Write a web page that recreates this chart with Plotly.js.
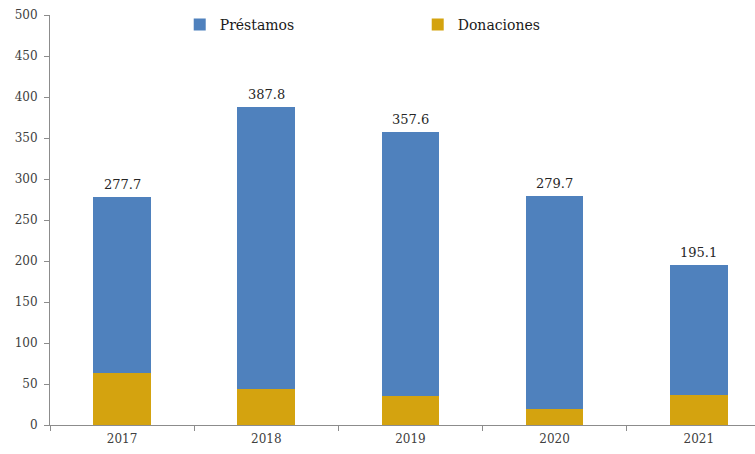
<!DOCTYPE html>
<html>
<head>
<meta charset="utf-8">
<script src="https://cdn.plot.ly/plotly-3.0.1.min.js"></script>
<style>body{margin:0;padding:0;background:#fff}#chart{width:755px;height:454px}</style>
</head>
<body>
<div id="chart"></div>
<script>
// years and the two stacked series
var years = ["2017", "2018", "2019", "2020", "2021"];
var prestamos = [214.3, 344.3, 322.1, 260.2, 158.4];
var donaciones = [63.4, 43.5, 35.5, 19.5, 36.7];

var serif = "DejaVu Serif";

var traces = [
  {x: years, y: donaciones, name: "Donaciones", type: "bar", marker: {color: "#D4A30F"}},
  {x: years, y: prestamos, name: "Préstamos", type: "bar", marker: {color: "#4F81BD"}}
];

// total label above each stack (x given as category index)
var notes = years.map(function (yr, i) {
  var total = prestamos[i] + donaciones[i];
  return {x: i, y: total, text: total.toFixed(1), showarrow: false,
          yanchor: "bottom", yshift: 3, font: {family: serif, size: 13, color: "#262626"}};
});

var layout = {
  width: 755, height: 454,
  margin: {l: 50, r: 0, t: 15, b: 29, autoexpand: false},
  barmode: "stack", bargap: 0.6,
  paper_bgcolor: "#fff", plot_bgcolor: "#fff",
  font: {family: serif, size: 12, color: "#404040"},
  showlegend: true,
  legend: {orientation: "h", traceorder: "reversed", x: 0.184, y: 1.015, xanchor: "left", yanchor: "top",
           entrywidth: 193, font: {family: serif, size: 14, color: "#1a1a1a"}, bgcolor: "rgba(0,0,0,0)"},
  xaxis: {type: "category", range: [-0.5, 4.39], showline: true, linecolor: "#8c8c8c",
          ticks: "outside", tickson: "boundaries", ticklen: 5, tickcolor: "#8c8c8c",
          ticklabelstandoff: 3, showgrid: false, zeroline: false},
  yaxis: {range: [0, 500], dtick: 50, showline: true, linecolor: "#8c8c8c",
          ticks: "outside", ticklen: 5, tickcolor: "#8c8c8c", ticklabelstandoff: 4,
          showgrid: false, zeroline: false},
  annotations: notes
};

Plotly.newPlot("chart", traces, layout, {displayModeBar: false});
</script>
</body>
</html>
